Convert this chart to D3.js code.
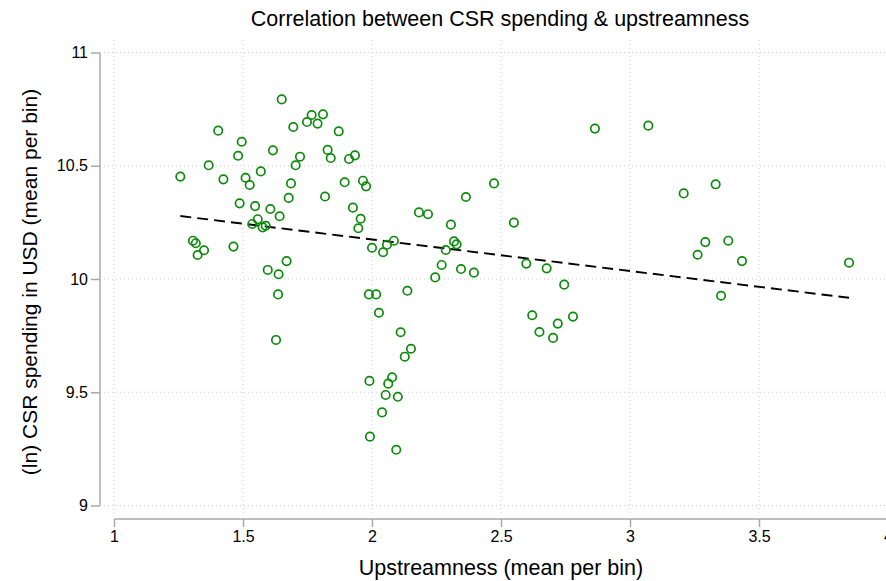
<!DOCTYPE html>
<html>
<head>
<meta charset="utf-8">
<script src="https://cdn.jsdelivr.net/npm/d3@7"></script>
<style>
  body { margin: 0; background: #fff; }
  text { font-family: "Liberation Sans", Arial, sans-serif; fill: #000; }
</style>
</head>
<body>
<div id="chart"></div>
<script>
// binned means
var upstream = [1.650,1.766,1.810,1.748,1.789,1.695,1.404,1.871,1.495,1.616,
  1.828,1.481,1.721,1.840,1.911,1.934,1.367,1.704,1.569,1.257,
  1.424,1.510,1.526,1.686,1.894,1.965,1.977,1.677,1.818,1.487,
  1.547,1.926,1.606,1.642,1.956,1.557,1.947,1.536,1.576,1.588,
  1.306,1.317,1.349,1.324,1.463,2.000,2.043,2.058,2.085,1.669,
  1.596,1.638,1.636,1.628,2.473,2.364,2.182,2.217,2.550,2.306,
  2.318,2.328,2.286,2.270,2.345,2.395,2.245,2.598,2.677,2.745,
  1.988,2.016,2.137,2.027,2.621,2.779,2.720,2.649,2.702,2.111,
  2.151,2.127,1.990,2.078,2.063,2.053,2.100,2.039,1.992,2.094,
  2.864,3.071,3.208,3.332,3.292,3.381,3.262,3.434,3.849,3.353];
var csr = [10.793,10.724,10.727,10.693,10.686,10.671,10.655,10.652,10.606,10.568,
  10.570,10.544,10.540,10.534,10.530,10.546,10.502,10.502,10.475,10.452,
  10.440,10.447,10.415,10.422,10.427,10.434,10.409,10.358,10.364,10.334,
  10.322,10.315,10.309,10.277,10.266,10.264,10.224,10.243,10.228,10.235,
  10.169,10.158,10.127,10.106,10.143,10.138,10.118,10.151,10.169,10.079,
  10.040,10.021,9.932,9.731,10.422,10.362,10.294,10.286,10.249,10.240,
  10.166,10.153,10.128,10.062,10.044,10.028,10.007,10.068,10.047,9.975,
  9.932,9.932,9.948,9.851,9.840,9.834,9.803,9.766,9.740,9.765,
  9.692,9.657,9.550,9.566,9.538,9.488,9.480,9.411,9.304,9.246,
  10.664,10.677,10.378,10.418,10.163,10.169,10.107,10.079,10.072,9.926];
// fitted line end points
var fitX = [1.257, 3.849];
var fitY = [10.278, 9.917];
var xTicks = [1, 1.5, 2, 2.5, 3, 3.5, 4];
var yTicks = [9, 9.5, 10, 10.5, 11];

var W = 886, H = 581;
var svg = d3.select("#chart").append("svg")
  .attr("width", W).attr("height", H);

var x = d3.scaleLinear().domain([1, 4]).range([114, 888]);
var y = d3.scaleLinear().domain([9, 11]).range([505.5, 52.5]);

// grid
svg.append("g").selectAll("line.gx")
  .data(xTicks).enter().append("line")
    .attr("x1", function(d) { return x(d); })
    .attr("x2", function(d) { return x(d); })
    .attr("y1", 40).attr("y2", 515)
    .attr("stroke", "#cfcfcf").attr("stroke-dasharray", "1,3");
svg.append("g").selectAll("line.gy")
  .data(yTicks).enter().append("line")
    .attr("x1", 104).attr("x2", W)
    .attr("y1", function(d) { return y(d); })
    .attr("y2", function(d) { return y(d); })
    .attr("stroke", "#cfcfcf").attr("stroke-dasharray", "1,3");

// axes
var yAxis = svg.append("g")
  .attr("transform", "translate(100,0)")
  .call(d3.axisLeft(y).tickValues(yTicks).tickSize(9).tickPadding(3)
    .tickFormat(d3.format("")));
var xAxis = svg.append("g")
  .attr("transform", "translate(0,519)")
  .call(d3.axisBottom(x).tickValues(xTicks).tickSize(8).tickPadding(4)
    .tickFormat(d3.format("")));
[yAxis, xAxis].forEach(function(a) {
  a.select(".domain").attr("stroke", "#a8a8a8").attr("stroke-width", 1.5);
  a.selectAll(".tick line").attr("stroke", "#a8a8a8").attr("stroke-width", 1.5);
  a.selectAll(".tick text").style("font-size", "16px")
    .style("font-family", "'Liberation Sans', Arial, sans-serif").attr("fill", "#000");
});
// Stata style: no outer ticks
yAxis.select(".domain").attr("d", "M0," + y(9) + "V" + y(11));
xAxis.select(".domain").attr("d", "M" + x(1) + ",0H" + x(4));

// fit line
svg.append("line")
  .attr("x1", x(fitX[0])).attr("y1", y(fitY[0]))
  .attr("x2", x(fitX[1])).attr("y2", y(fitY[1]))
  .attr("stroke", "#000").attr("stroke-width", 1.9)
  .attr("stroke-dasharray", "11,6");

// points
svg.append("g").selectAll("circle")
  .data(upstream).enter().append("circle")
    .attr("cx", function(d) { return x(d); })
    .attr("cy", function(d, i) { return y(csr[i]); })
    .attr("r", 4.2)
    .attr("fill", "none")
    .attr("stroke", "#0b8a0b")
    .attr("stroke-width", 1.7);

// titles
svg.append("text")
  .attr("x", 500).attr("y", 26)
  .attr("text-anchor", "middle")
  .style("font-size", "21.5px")
  .text("Correlation between CSR spending & upstreamness");
svg.append("text")
  .attr("x", 501).attr("y", 575)
  .attr("text-anchor", "middle")
  .style("font-size", "21.5px")
  .text("Upstreamness (mean per bin)");
svg.append("text")
  .attr("transform", "translate(37,282)rotate(-90)")
  .attr("text-anchor", "middle")
  .style("font-size", "21px")
  .text("(ln) CSR spending in USD (mean per bin)");
</script>
</body>
</html>
